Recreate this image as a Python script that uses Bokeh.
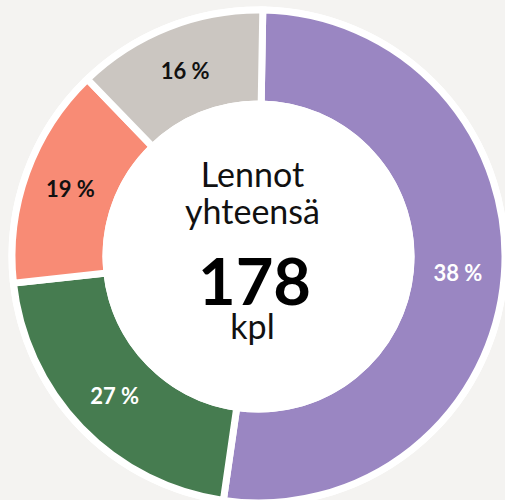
import numpy as np
from math import pi
from bokeh.plotting import figure
from bokeh.models import Range1d, ColumnDataSource
from bokeh.core.properties import value
from bokeh.embed import file_html
from bokeh.resources import INLINE

# --- data ---
categories = ["A", "B", "C", "D"]
shares = [52.0, 21.0, 14.5, 12.5]          # slice sizes as drawn
labels = ["38 %", "27 %", "19 %", "16 %"]  # printed labels
colors = ["#9a86c2", "#467c50", "#f88b75", "#cbc6c1"]
label_colors = ["#ffffff", "#ffffff", "#111111", "#111111"]
title_lines = ["Lennot", "yhteensä"]
total_text = "178"
unit_text = "kpl"

BG = "#f4f3f1"
W, H = 505, 500
CX, CY = 258, 256        # page position of donut centre
R_OUT, R_IN, R_RING = 243, 156, 250
GAP = 7
ROT = 1.0 * pi / 180     # small clockwise start offset

p = figure(width=W, height=H, output_backend="svg", toolbar_location=None,
           x_range=Range1d(-CX, W - CX), y_range=Range1d(CY - H, CY),
           min_border=0)
p.axis.visible = False
p.grid.visible = False
p.outline_line_color = None
p.background_fill_color = BG
p.border_fill_color = BG

frac = np.array(shares) / sum(shares)
cum = np.concatenate([[0], np.cumsum(frac)])
start = pi / 2 - ROT - 2 * pi * cum[:-1]
end = pi / 2 - ROT - 2 * pi * cum[1:]
mid = (start + end) / 2
r_lab = (R_OUT + R_IN) / 2 + 0.5

src = ColumnDataSource(dict(cat=categories, start=start, end=end, color=colors,
                            lx=r_lab * np.cos(mid), ly=r_lab * np.sin(mid),
                            label=labels, lcolor=label_colors))

# white outer ring
p.circle(x=0, y=0, radius=R_RING, fill_color="white", line_color=None)
# slices with white separators
p.annular_wedge(x=0, y=0, inner_radius=R_IN - GAP / 2, outer_radius=R_OUT + GAP / 2,
                start_angle="start", end_angle="end", direction="clock",
                fill_color="color", line_color="white", line_width=GAP,
                line_join="miter", source=src)
# hole
p.circle(x=0, y=0, radius=R_IN, fill_color="white", line_color=None)

p.text(x="lx", y="ly", text="label", text_color="lcolor", source=src,
       text_align="center", text_baseline="middle",
       text_font=value("Lato"), text_font_style="bold", text_font_size="22px")

# centre texts
p.text(x=[-6, -6], y=[CY - 188 + 15, CY - 225 + 15], text=title_lines,
       text_align="center", text_baseline="alphabetic",
       text_font=value("Lato"), text_font_size="34px", text_color="#111111")
p.text(x=[-4], y=[CY - 303 + 22], text=[total_text],
       text_align="center", text_baseline="alphabetic",
       text_font=value("Lato"), text_font_style="bold", text_font_size="65px",
       text_color="#000000")
p.text(x=[-6], y=[CY - 340 + 15], text=[unit_text],
       text_align="center", text_baseline="alphabetic",
       text_font=value("Lato"), text_font_size="34px", text_color="#111111")

html = file_html(p, INLINE)
html = html.replace("<head>", "<head><style>html,body{background:%s;}</style>" % BG, 1)
open("out.html", "w").write(html)
